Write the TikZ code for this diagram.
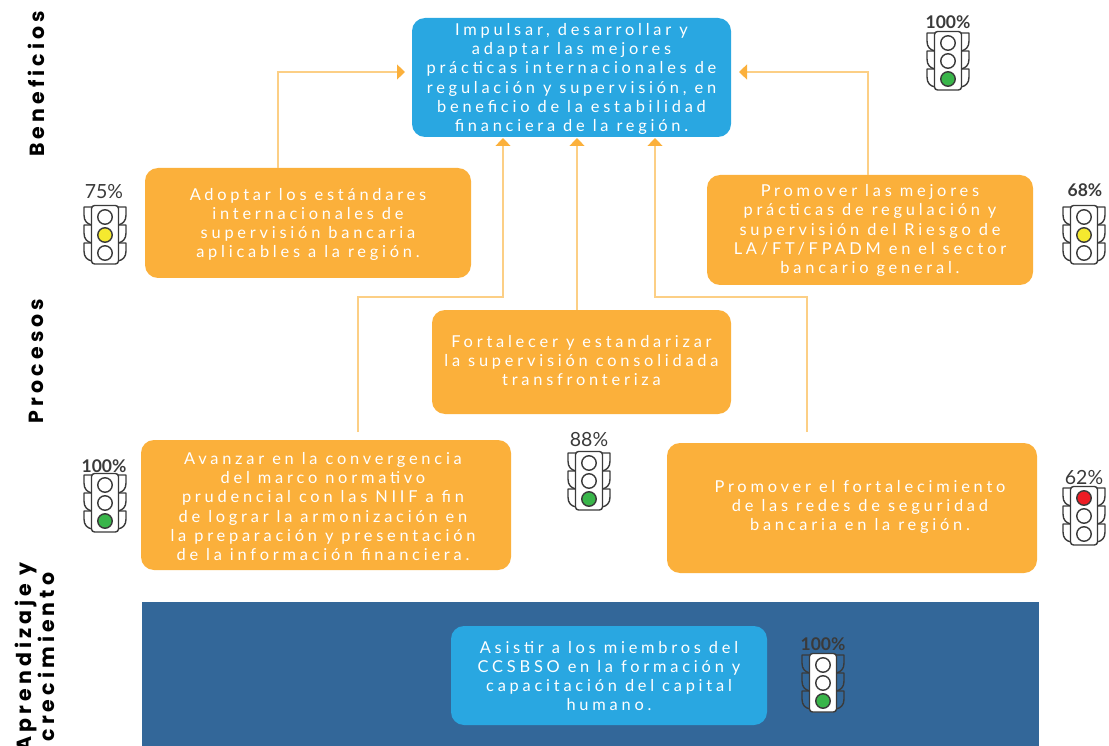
\documentclass[tikz,border=0pt]{standalone}
\usepackage{fontspec}
\setmainfont{Lato}
\newfontfamily\spaced[LetterSpace=23]{Lato}
\newfontfamily\sidefont[LetterSpace=20]{Poppins}
\usetikzlibrary{arrows.meta}
\definecolor{orng}{HTML}{FBB03B}
\definecolor{orngline}{HTML}{FCCF85}
\definecolor{skyb}{HTML}{29A7E1}
\definecolor{deepb}{HTML}{336799}
\definecolor{tlgrey}{HTML}{3A3A3A}
\definecolor{tlred}{HTML}{ED1C24}
\definecolor{tlyel}{HTML}{F5E92F}
\definecolor{tlgrn}{HTML}{39B54A}
\tikzset{
  box/.style={rounded corners=13pt,inner sep=0pt},
  orangebox/.style={box,fill=orng},
  bluebox/.style={box,fill=skyb},
  boxtext/.style={inner sep=0pt,align=center,text=white,font=\spaced\fontsize{16.4}{19.3}\selectfont},
  link/.style={draw=orngline,line width=1.1pt},
  arrowlink/.style={link,-{Triangle[width=15pt,length=8pt,color=orng,fill=orng]}},
  pct/.style={text=tlgrey,font=\fontsize{17.5}{18}\selectfont\bfseries,inner sep=0pt},
  pctlight/.style={text=tlgrey,font=\fontsize{19.5}{18}\selectfont,inner sep=0pt},
  side/.style={rotate=90,text=black,align=center,inner sep=0pt,font=\sidefont\fontsize{20.5}{21.5}\selectfont\bfseries},
  tlline/.style={draw=tlgrey,line width=1.4pt},
}
% \tl{name}{x}{y}{top colour}{middle colour}{bottom colour}
\newcommand{\tl}[6]{%
\begin{scope}[shift={(#2,#3)}]
  \foreach \yy in {-18,0,18}{
    \draw[tlline,line join=round] (-13,\yy-10) -- (-21,\yy-10) -- (-21,\yy-2) .. controls (-21,\yy+4) and (-18,\yy+7) .. (-13,\yy+8);
    \draw[tlline,line join=round] (13,\yy-10) -- (21,\yy-10) -- (21,\yy-2) .. controls (21,\yy+4) and (18,\yy+7) .. (13,\yy+8);
  }
  \draw[tlline,fill=white,rounded corners=3pt] (-13.5,-29.5) rectangle (13.5,29);
  \node[circle,tlline,fill=#4,minimum size=14.5pt,inner sep=0pt] (#1a) at (0,-18) {};
  \node[circle,tlline,fill=#5,minimum size=14.5pt,inner sep=0pt] (#1b) at (0,0) {};
  \node[circle,tlline,fill=#6,minimum size=14.5pt,inner sep=0pt] (#1c) at (0,18) {};
\end{scope}}
\begin{document}
\begin{tikzpicture}[x=1pt,y=-1pt]
\useasboundingbox (0,0) rectangle (1109,746);
% bottom band
\fill[deepb] (142,602) rectangle (1039,746);
% boxes
\node[bluebox,minimum width=319pt,minimum height=119pt] (top) at (571.5,77.5) {};
\node[boxtext] (toptext) at ([yshift=-1.5pt]top.center) {Impulsar, desarrollar y\\adaptar las mejores\\prácticas internacionales de\\regulación y supervisión, en\\beneficio de la estabilidad\\financiera de la región.};
\node[orangebox,minimum width=326pt,minimum height=110pt] (adopt) at (308,223) {};
\node[boxtext] (adopttext) at ([yshift=-1.5pt]adopt.center) {Adoptar los estándares\\internacionales de\\supervisión bancaria\\aplicables a la región.};
\node[orangebox,minimum width=326pt,minimum height=110pt] (prom) at (870,230) {};
\node[boxtext] (promtext) at ([yshift=-0.5pt]prom.center) {Promover las mejores\\prácticas de regulación y\\supervisión del Riesgo de\\LA/FT/FPADM en el sector\\bancario general.};
\node[orangebox,minimum width=299pt,minimum height=104pt] (fort) at (581.5,362) {};
\node[boxtext] (forttext) at ([yshift=1.5pt]fort.center) {Fortalecer y estandarizar\\la supervisión consolidada\\transfronteriza};
\node[orangebox,minimum width=370pt,minimum height=130pt] (avan) at (326,505) {};
\node[boxtext] (avantext) at ([yshift=-1.5pt,xshift=-3pt]avan.center) {Avanzar en la convergencia\\del marco normativo\\prudencial con las NIIF a fin\\de lograr la armonización en\\la preparación y presentación\\de la información financiera.};
\node[orangebox,minimum width=370pt,minimum height=130pt] (redes) at (852,508) {};
\node[boxtext] (redestext) at ([yshift=1pt,xshift=8pt]redes.center) {Promover el fortalecimiento\\de las redes de seguridad\\bancaria en la región.};
\node[bluebox,minimum width=316pt,minimum height=99pt] (asis) at (609,675.5) {};
\node[boxtext] (asistext) at ([yshift=-0.5pt]asis.center) {Asistir a los miembros del\\CCSBSO en la formación y\\capacitación del capital\\humano.};
% arrow end points
\coordinate (inL) at (405,72);
\coordinate (inR) at (739,72);
\coordinate (in1) at (503,138);
\coordinate (in2) at (577,138);
\coordinate (in3) at (655,138);
\coordinate (fromAvan) at (358,432);
\coordinate (fromRedes) at (807,432);
% connectors
\draw[arrowlink] (adopt.north -| 278,0) |- (inL);
\draw[arrowlink] (prom.north -| 868,0) |- (inR);
\draw[arrowlink] (fromAvan) -- (358,297) -- (503,297) -- (in1);
\draw[arrowlink] (fort.north -| in2) -- (in2);
\draw[arrowlink] (fromRedes) -- (807,297) -- (655,297) -- (in3);
% side labels
\node[side] (s1) at (36,84) {Beneficios};
\node[side] (s2) at (36,361) {Procesos};
\node[side] (s3) at (34.5,657) {Aprendizaje y\\crecimiento};
% traffic lights
\tl{t1}{948}{61}{white}{white}{tlgrn}
\tl{t2}{105}{235}{white}{tlyel}{white}
\tl{t3}{1084}{235}{white}{tlyel}{white}
\tl{t4}{105}{503}{white}{white}{tlgrn}
\tl{t5}{589}{481}{white}{white}{tlgrn}
\tl{t6}{1084}{516}{tlred}{white}{white}
\tl{t7}{823}{683}{white}{white}{tlgrn}
% percentages
\node[pct] (p1) at (948,22) {100\%};
\node[pctlight] (p2) at (104,192) {75\%};
\node[pct] (p3) at (1085,190) {68\%};
\node[pct] (p4) at (104,466) {100\%};
\node[pctlight] (p5) at (589,440) {88\%};
\node[pctlight] (p6) at (1084,478) {62\%};
\node[pct] (p7) at (823,644) {100\%};
\end{tikzpicture}
\end{document}
